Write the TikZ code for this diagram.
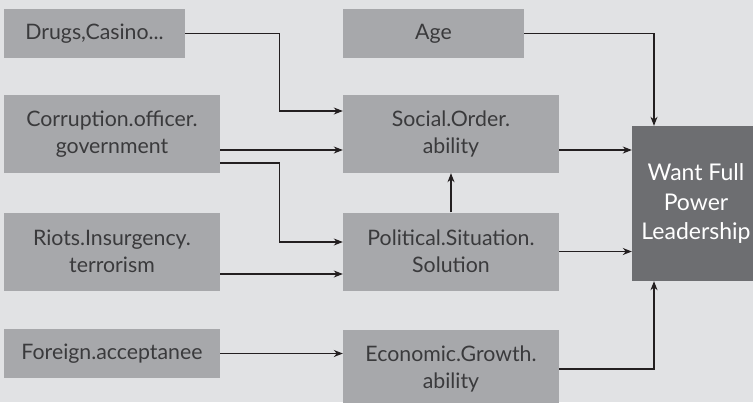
\documentclass[tikz,border=0pt]{standalone}
\usepackage{fontspec}
\setmainfont{Lato}
\usepackage{tikz}
\usetikzlibrary{arrows.meta,positioning,calc}
\definecolor{bggray}{HTML}{E1E2E4}
\definecolor{boxgray}{HTML}{A7A8AB}
\definecolor{darkgray}{HTML}{6D6E71}
\definecolor{txtgray}{HTML}{3A3A3C}
\definecolor{linegray}{HTML}{231F20}
\tikzstyle{factor}=[rectangle,fill=boxgray,text=txtgray,align=center,inner sep=0pt,font=\fontsize{21.3}{27}\selectfont]
\tikzstyle{smallfactor}=[factor,minimum width=181pt,minimum height=49pt]
\tikzstyle{bigfactor}=[factor,minimum width=216pt,minimum height=78pt]
\tikzstyle{goal}=[rectangle,fill=darkgray,text=white,align=center,inner sep=0pt,minimum width=128pt,minimum height=155pt,font=\fontsize{23}{29.5}\selectfont]
\tikzstyle{edge} = [draw,line width=1.1pt,linegray,-{Stealth[length=9pt,width=7pt]}]

\begin{document}
\begin{tikzpicture}[x=1pt,y=-1pt]

    \fill[bggray] (0,0) rectangle (753,402);
    \useasboundingbox (0,0) rectangle (753,402);
    \clip (0,0) rectangle (753,402);

    % left column
    \node[smallfactor] (drugs) at (94.5,33.5) {Drugs,Casino...};
    \node[bigfactor] (corr) at (112,134) {Corruption.officer.\\government};
    \node[bigfactor] (riots) at (112,251.5) {Riots.Insurgency.\\terrorism};
    \node[bigfactor,minimum height=49pt] (foreign) at (112,353.5) {Foreign.acceptanee};

    % middle column
    \node[smallfactor] (age) at (433.5,33.5) {Age};
    \node[bigfactor] (social) at (451,134) {Social.Order.\\ability};
    \node[bigfactor] (polit) at (451,251.5) {Political.Situation.\\Solution};
    \node[bigfactor] (econ) at (451,369) {Economic.Growth.\\ability};

    % outcome
    \node[goal] (want) at (696,203.5) {Want Full\\Power\\Leadership};

    % connect boxes
    \path[edge] (drugs.east) -- ++(94,0) |- ([yshift=23pt]social.west);
    \path[edge] ([yshift=-16pt]corr.east) -- ([yshift=-16pt]social.west);
    \path[edge] ([yshift=-29pt]corr.east) -- ++(59,0) |- ([yshift=9.5pt]polit.west);
    \path[edge] ([yshift=-22.5pt]riots.east) -- ([yshift=-22.5pt]polit.west);
    \path[edge] (foreign.east) -- (foreign.east -| econ.west);
    \path[edge] (polit) -- (social);
    \path[edge] (age.east) -| ([xshift=-42pt]want.north);
    \path[edge] ([yshift=-16pt]social.east) -- ([yshift=-16pt]social.east -| want.west);
    \path[edge] (polit.east) -- (polit.east -| want.west);
    \path[edge] (econ.east) -| ([xshift=-42pt]want.south);

\end{tikzpicture}
\end{document}
